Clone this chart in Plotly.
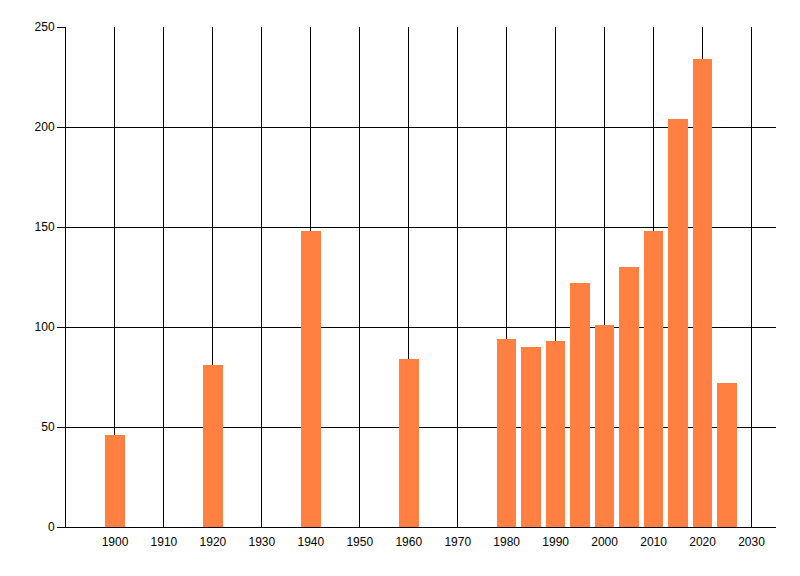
import plotly.graph_objects as go

years = [1900, 1920, 1940, 1960, 1980, 1985, 1990, 1995, 2000, 2005, 2010, 2015, 2020, 2025]
values = [46, 81, 148, 84, 94, 90, 93, 122, 101, 130, 148, 204, 234, 72]
x_ticks = list(range(1900, 2031, 10))
y_ticks = [0, 50, 100, 150, 200, 250]

fig = go.Figure(go.Bar(x=years, y=values, width=4, marker=dict(color="#FF8040", line=dict(width=0))))

fig.update_layout(
    width=800, height=576,
    margin=dict(l=58, r=32, t=19, b=57),
    paper_bgcolor="white", plot_bgcolor="white",
    font=dict(family="Liberation Sans, Arial, sans-serif", size=12, color="black"),
    showlegend=False,
    bargap=0,
)
fig.update_xaxes(
    range=[1890, 2035], tickvals=x_ticks, ticktext=[str(t) for t in x_ticks],
    showgrid=True, gridcolor="black", gridwidth=1,
    showline=True, linecolor="black", linewidth=1,
    ticks="", zeroline=False, ticklabelstandoff=4, automargin=False,
)
fig.update_yaxes(
    range=[0, 250], tickvals=y_ticks,
    showgrid=True, gridcolor="black", gridwidth=1,
    showline=True, linecolor="black", linewidth=1,
    ticks="outside", ticklen=8, tickcolor="black", zeroline=False, automargin=False,
)
fig.write_html("out.html")
